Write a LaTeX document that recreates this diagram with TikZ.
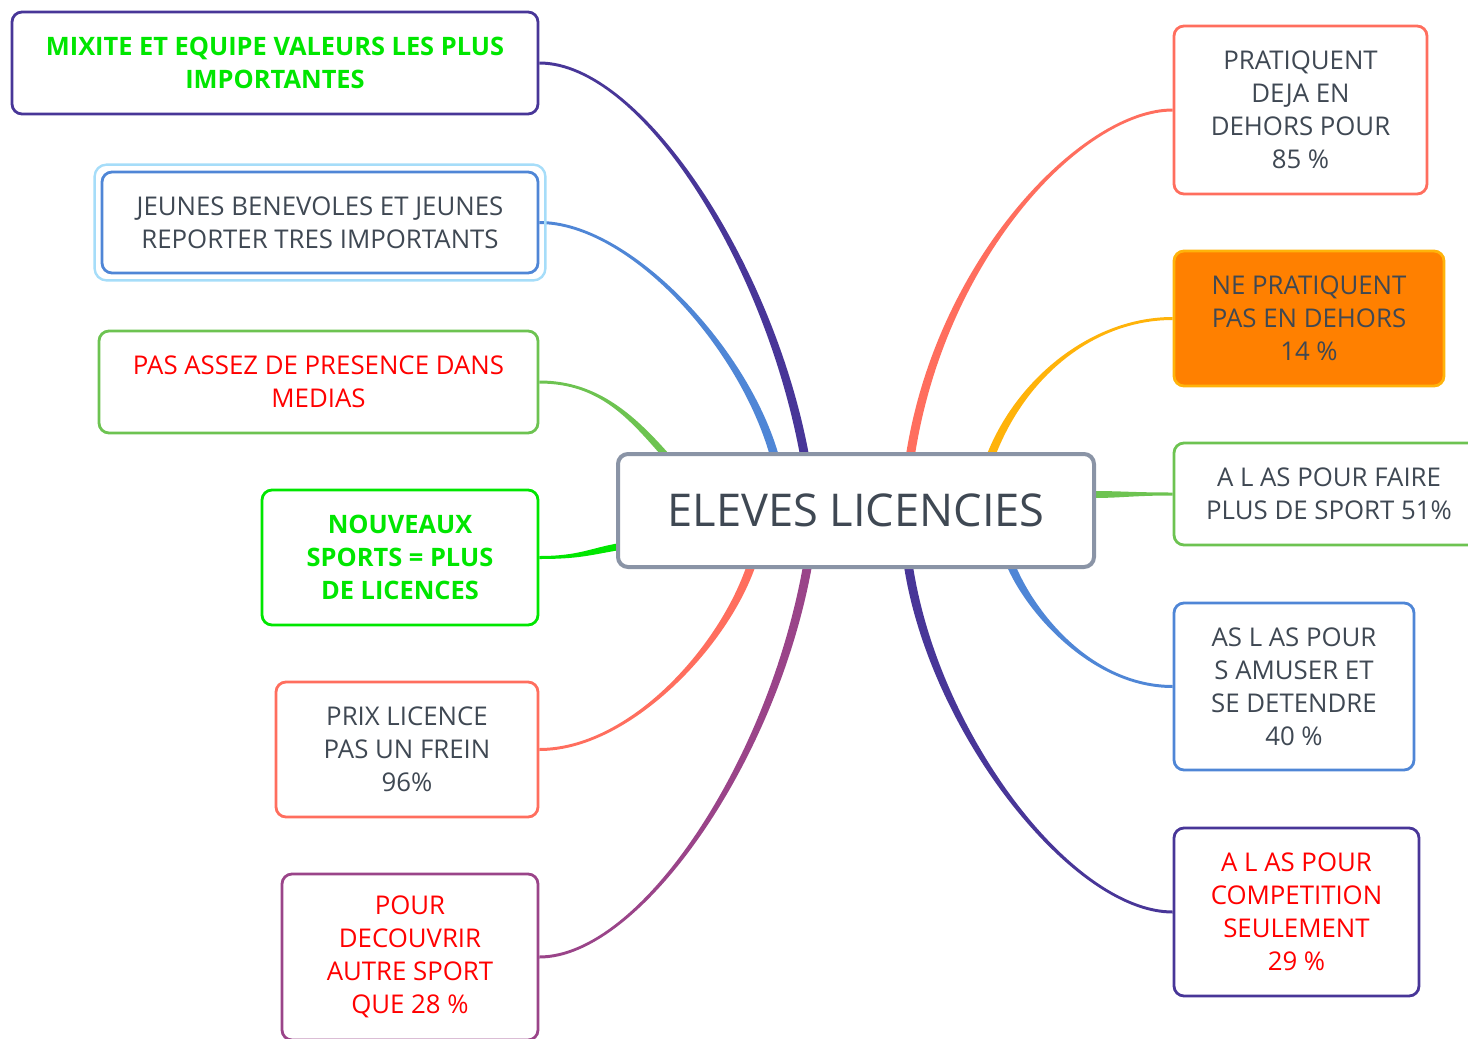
\documentclass[tikz,border=0pt]{standalone}
\usepackage{fontspec}
\setmainfont{Open Sans}
\usetikzlibrary{calc, backgrounds}
\definecolor{txtgray}{HTML}{3F4853}
\definecolor{indigo}{HTML}{483698}
\definecolor{skyblue}{HTML}{4F86D6}
\definecolor{halo}{HTML}{A6DDF9}
\definecolor{leaf}{HTML}{6DC351}
\definecolor{neon}{HTML}{00E600}
\definecolor{salmon}{HTML}{FF6E5E}
\definecolor{plum}{HTML}{9A4489}
\definecolor{amber}{HTML}{FFB30A}
\definecolor{orangefill}{HTML}{FF8000}
\definecolor{slate}{HTML}{8A94A6}
\tikzset{
  box/.style={rectangle, rounded corners=5pt, draw, line width=1.4pt, fill=white,
    align=center, text=txtgray, inner sep=2pt, font=\fontsize{12.9}{16.5}\selectfont},
  boxIndigo/.style={box, draw=indigo},
  boxBlue/.style={box, draw=skyblue},
  boxLeaf/.style={box, draw=leaf},
  boxNeon/.style={box, draw=neon},
  boxSalmon/.style={box, draw=salmon},
  boxPlum/.style={box, draw=plum},
  boxOrange/.style={box, draw=amber, fill=orangefill},
  centre/.style={box, draw=slate, line width=2pt, font=\fontsize{22.6}{27}\selectfont},
  redtxt/.style={text=red},
  greentxt/.style={text=neon, font=\fontsize{12.7}{16.5}\selectfont\bfseries},
}
% tapered branch: colour, start, start half-width, control 1, control 2, end, end half-width
\newcommand{\branchto}[7]{\fill[#1] ($#2+#3$) .. controls +#4 and +#5 .. ($#6+#7$) -- ($#6-#7$) .. controls +#5 and +#4 .. ($#2-#3$) -- cycle;}

\begin{document}
\begin{tikzpicture}[x=0.5pt, y=-0.5pt]
\useasboundingbox (0,0) rectangle (1468,1039);
\clip (0,0) rectangle (1468,1039);

% centre
\node[centre, minimum width=238pt, minimum height=56.5pt] (cen) at (856,510.5) {ELEVES LICENCIES};

% left side
\node[boxIndigo, greentxt, minimum width=263pt, minimum height=51pt] (mix) at (275,63) {MIXITE ET EQUIPE VALEURS LES PLUS\\IMPORTANTES};
\node[boxBlue, minimum width=218pt, minimum height=50.5pt] (jeu) at (320,222.5) {JEUNES BENEVOLES ET JEUNES\\REPORTER TRES IMPORTANTS};
\draw[halo, line width=1.2pt, rounded corners=6pt] ($(jeu.north west)+(-6,-6)$) rectangle ($(jeu.south east)+(6,6)$);
\node[boxLeaf, redtxt, minimum width=219.5pt, minimum height=51pt] (pas) at (318.5,382) {PAS ASSEZ DE PRESENCE DANS\\MEDIAS};
\node[boxNeon, greentxt, minimum width=138pt, minimum height=67.5pt] (nouv) at (400,557.5) {NOUVEAUX\\SPORTS = PLUS\\DE LICENCES};
\node[boxSalmon, minimum width=131pt, minimum height=67.5pt] (prix) at (407,749.5) {PRIX LICENCE\\PAS UN FREIN\\96\%};
\node[boxPlum, redtxt, minimum width=128pt, minimum height=83pt] (pour) at (410,957) {POUR\\DECOUVRIR\\AUTRE SPORT\\QUE 28 \%};

% right side
\node[boxSalmon, minimum width=126.5pt, minimum height=84pt] (prat) at (1300.5,110) {PRATIQUENT\\DEJA EN\\DEHORS POUR\\85 \%};
\node[boxOrange, minimum width=135pt, minimum height=67.5pt] (ne) at (1309,318.5) {NE PRATIQUENT\\PAS EN DEHORS\\14 \%};
\node[boxLeaf, minimum width=155pt, minimum height=51pt] (alas) at (1329,494) {A L AS POUR FAIRE\\PLUS DE SPORT 51\%};
\node[boxBlue, minimum width=120pt, minimum height=83.5pt] (asl) at (1294,686.5) {AS L AS POUR\\S AMUSER ET\\SE DETENDRE\\40 \%};
\node[boxIndigo, redtxt, minimum width=122.5pt, minimum height=84pt] (comp) at (1296.5,912) {A L AS POUR\\COMPETITION\\SEULEMENT\\29 \%};

\begin{scope}[on background layer]
\branchto{indigo}{(mix.east)}{(0,-1.5)}{(102,0)}{(-35,-194)}{($(cen.north)+(-51,6)$)}{(4.5,0)}
\branchto{skyblue}{(jeu.east)}{(0,-1.5)}{(90,0)}{(-30,-110)}{($(cen.north)+(-81,6)$)}{(4.5,0)}
\branchto{leaf}{(pas.east)}{(0,-1.5)}{(60,0)}{(-35,-40)}{($(cen.north)+(-188,6)$)}{(4.5,0)}
\branchto{neon}{(nouv.east)}{(0,-1.5)}{(40,0)}{(-30,5)}{($(cen.west)+(4,36)$)}{(0,-3.5)}
\branchto{salmon}{(prix.east)}{(0,-1.5)}{(90,0)}{(-27,83)}{($(cen.south)+(-104,-6)$)}{(-4.5,0)}
\branchto{plum}{(pour.east)}{(0,-1.5)}{(100,0)}{(-35,200)}{($(cen.south)+(-48,-6)$)}{(-4.5,0)}
\branchto{salmon}{(prat.west)}{(0,1.5)}{(-90,0)}{(30,-200)}{($(cen.north)+(54,6)$)}{(4.5,0)}
\branchto{amber}{(ne.west)}{(0,1.5)}{(-80,0)}{(30,-80)}{($(cen.north)+(134,6)$)}{(4.5,0)}
\branchto{leaf}{(alas.west)}{(0,1.5)}{(-40,0)}{(30,0)}{($(cen.east)+(-4,-16)$)}{(0,3.5)}
\branchto{skyblue}{(asl.west)}{(0,1.5)}{(-80,0)}{(20,50)}{($(cen.south)+(154,-6)$)}{(-4.5,0)}
\branchto{indigo}{(comp.west)}{(0,1.5)}{(-100,0)}{(25,170)}{($(cen.south)+(52,-6)$)}{(-4.5,0)}
\end{scope}
\end{tikzpicture}
\end{document}
